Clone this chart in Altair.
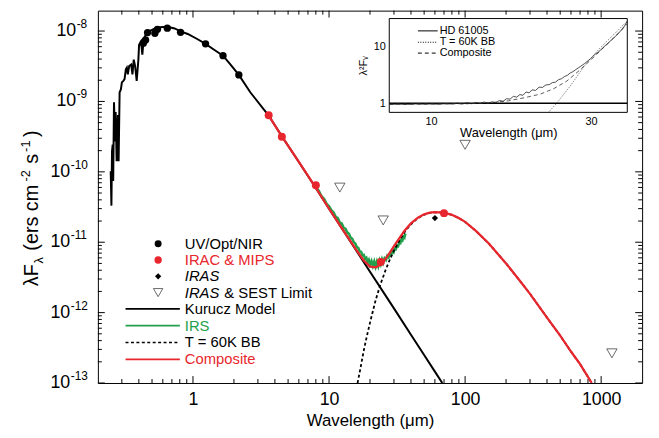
import altair as alt
import pandas as pd

FONT = "Liberation Sans"
RED = "#e8262d"
GREEN = "#22a04b"

# ---------------- main panel data ----------------
# Kurucz photospheric model (UV spectrum + smooth continuum + Rayleigh-Jeans tail)
kur_lam = [0.2485, 0.2515, 0.2540, 0.2570, 0.2592, 0.2627, 0.2679, 0.2702, 0.2747, 0.2808,
           0.2841, 0.2889, 0.2952, 0.3002, 0.3088, 0.3141, 0.3210, 0.3264, 0.3319, 0.3397,
           0.3513, 0.3590, 0.3669, 0.3756, 0.3858, 0.3969, 0.4016, 0.4152, 0.4244, 0.4337,
           0.4484, 0.4637, 0.4957, 0.5247, 0.5705, 0.6476, 0.7331, 0.8103, 0.9154, 1.082,
           1.237, 1.430, 1.663, 1.888, 2.173, 2.637, 3.6, 4.5, 6.0, 8.0,
           10.0, 12.0, 15.0, 20.0, 25.0, 30.0, 40.0, 50.0, 60.0, 68.0]
kur_flux = [1.02e-10, 3.31e-11, 1.95e-10, 2.44e-10, 7.4e-11, 9.75e-10, 2.69e-10, 7.06e-10, 1.41e-10, 6.41e-10,
            1.41e-10, 1.35e-9, 1.48e-9, 1.86e-9, 1.98e-9, 2.07e-9, 2.85e-9, 3.01e-9, 2.43e-9, 3.18e-9,
            3.34e-9, 2.43e-9, 3.93e-9, 3.18e-9, 1.96e-9, 3.93e-9, 6.37e-9, 7.11e-9, 4.61e-9, 7.48e-9,
            8.79e-9, 9.81e-9, 1.03e-8, 1.09e-8, 1.13e-8, 1.15e-8, 1.09e-8, 9.9e-9, 9.08e-9, 7.65e-9,
            6.58e-9, 5.42e-9, 4.47e-9, 3.34e-9, 2.38e-9, 1.35e-9, 6.3e-10, 3.2e-10, 1.38e-10, 5.9e-11,
            3.0e-11, 1.75e-11, 9.0e-12, 3.8e-12, 1.97e-12, 1.15e-12, 4.85e-13, 2.5e-13, 1.45e-13, 1.0e-13]

# UV / optical / near-IR photometry
opt_lam = [0.4314, 0.4484, 0.4637, 0.5247, 0.5480, 0.6476, 0.8103, 1.237, 1.663, 2.173]
opt_flux = [6.73e-9, 7.48e-9, 9.5e-9, 9.3e-9, 1.057e-8, 1.10e-8, 9.6e-9, 6.58e-9, 4.47e-9, 2.38e-9]

# IRAC & MIPS photometry
ir_lam = [3.6, 4.5, 8.0, 24.0, 70.0]
ir_flux = [6.35e-10, 3.16e-10, 6.46e-11, 5.24e-12, 2.59e-11]

# IRAS detection
iras_lam = [60.0]
iras_flux = [2.20e-11]

# IRAS & SEST upper limits
lim_lam = [12.0, 25.0, 100.0, 1200.0]
lim_flux = [5.97e-11, 2.04e-11, 2.42e-10, 2.64e-13]

# IRS spectrum
irs_lam = [8.0, 8.4, 8.8, 9.2, 9.6, 10.0, 10.4, 10.8, 11.2, 11.6, 12.0, 12.4, 12.8, 13.2, 13.6,
           14.0, 14.4, 14.8, 15.2, 15.6, 16.0, 16.4, 16.8, 17.2, 17.6, 18.0, 18.4, 18.8, 19.2, 19.6,
           20.0, 20.5, 21.0, 21.5, 22.0, 22.5, 23.0, 23.5, 24.0, 24.5, 25.0, 25.6, 26.2, 26.8, 27.4,
           28.0, 28.6, 29.2, 29.8, 30.4, 31.0, 31.6, 32.2, 32.8, 33.4, 34.0, 34.6, 35.2, 35.8, 36.4]
irs_flux = [6.0e-11, 5.4e-11, 4.5e-11, 4.1e-11, 3.5e-11, 3.25e-11, 2.85e-11, 2.65e-11, 2.3e-11, 2.2e-11,
            1.9e-11, 1.85e-11, 1.6e-11, 1.56e-11, 1.38e-11, 1.32e-11, 1.17e-11, 1.12e-11, 1.0e-11, 9.6e-12,
            8.5e-12, 8.3e-12, 7.4e-12, 7.3e-12, 6.5e-12, 6.6e-12, 5.8e-12, 6.0e-12, 5.2e-12, 5.6e-12,
            4.8e-12, 5.4e-12, 4.6e-12, 5.3e-12, 4.5e-12, 5.3e-12, 4.6e-12, 5.5e-12, 4.9e-12, 5.7e-12,
            5.1e-12, 5.9e-12, 5.6e-12, 6.4e-12, 6.1e-12, 6.9e-12, 6.6e-12, 7.5e-12, 7.2e-12, 8.1e-12,
            8.0e-12, 9.0e-12, 8.8e-12, 9.9e-12, 9.7e-12, 1.09e-11, 1.06e-11, 1.19e-11, 1.16e-11, 1.33e-11]

# T = 60 K blackbody
bb_lam = [16.2, 17.0, 18.0, 19.0, 20.0, 22.0, 24.0, 26.0, 28.0, 30.0, 33.0, 36.0, 40.0, 45.0, 50.0,
          55.0, 60.0, 70.0, 80.0, 90.0, 100.0, 120.0, 150.0, 200.0, 250.0, 300.0, 400.0, 500.0, 600.0, 700.0, 853.0]
bb_flux = [1.0e-13, 1.6e-13, 2.9e-13, 4.7e-13, 7.2e-13, 1.5e-12, 2.6e-12, 4.0e-12, 5.7e-12, 7.6e-12, 1.06e-11,
           1.4e-11, 1.8e-11, 2.2e-11, 2.46e-11, 2.61e-11, 2.67e-11, 2.62e-11, 2.45e-11, 2.2e-11, 1.95e-11,
           1.45e-11, 9.5e-12, 5.0e-12, 2.9e-12, 1.85e-12, 8.5e-13, 4.7e-13, 2.8e-13, 1.85e-13, 1.0e-13]

# Composite (photosphere + blackbody)
comp_lam = [3.6, 4.5, 6.0, 8.0, 10.0, 12.0, 14.0, 16.0, 18.0, 20.0, 22.0, 24.0, 26.0, 28.0, 30.0,
            33.0, 36.0, 40.0, 45.0, 50.0, 55.0, 60.0, 70.0, 80.0, 90.0, 100.0, 120.0, 150.0, 200.0,
            250.0, 300.0, 400.0, 500.0, 600.0, 700.0, 853.0]
comp_flux = [6.3e-10, 3.2e-10, 1.38e-10, 5.9e-11, 3.0e-11, 1.75e-11, 1.12e-11, 7.6e-12, 5.5e-12, 4.5e-12,
             4.4e-12, 4.8e-12, 5.8e-12, 7.1e-12, 8.8e-12, 1.15e-11, 1.47e-11, 1.85e-11, 2.23e-11, 2.49e-11,
             2.63e-11, 2.68e-11, 2.63e-11, 2.45e-11, 2.2e-11, 1.95e-11, 1.45e-11, 9.5e-12, 5.0e-12,
             2.9e-12, 1.85e-12, 8.5e-13, 4.7e-13, 2.8e-13, 1.85e-13, 1.0e-13]

# axis ticks and tick labels
x_major = [1, 10, 100, 1000]
x_minor = [m * 10.0 ** e for e in range(-1, 4) for m in range(2, 10) if 0.2 < m * 10.0 ** e < 2000]
y_major = [1e-13, 1e-12, 1e-11, 1e-10, 1e-9, 1e-8]
y_minor = [m * 10.0 ** e for e in range(-13, -8) for m in range(2, 10)]
ylab_short = [1e-9, 1e-8]
ylab_short_exp = ["-9", "-8"]
ylab_long = [1e-13, 1e-12, 1e-11, 1e-10]
ylab_long_exp = ["-13", "-12", "-11", "-10"]

# ---------------- inset data (normalised lambda^2 F_nu) ----------------
ins_lam = [7.5, 8.0, 8.5, 9.0, 9.5, 10.0, 10.5, 11.0, 11.5, 12.0, 12.4, 12.8, 13.2, 13.6, 14.0,
           14.4, 14.8, 15.2, 15.6, 16.0, 16.4, 16.8, 17.2, 17.6, 18.0, 18.4, 18.8, 19.2, 19.6, 20.0,
           20.5, 21.0, 21.5, 22.0, 22.5, 23.0, 23.5, 24.0, 24.5, 25.0, 25.5, 26.0, 26.5, 27.0, 27.5,
           28.0, 28.7, 29.4, 30.1, 30.8, 31.5, 32.2, 33.0, 33.8, 34.6, 35.4, 36.2, 37.0, 37.8, 38.5]
ins_hd = [0.95, 0.96, 0.95, 0.97, 0.96, 0.97, 0.96, 0.98, 0.97, 1.0, 0.97, 1.02, 0.98, 1.03, 0.99,
          1.05, 1.0, 1.06, 1.02, 1.12, 1.08, 1.2, 1.18, 1.32, 1.28, 1.42, 1.38, 1.58, 1.52, 1.72,
          1.68, 1.92, 1.9, 2.1, 2.12, 2.3, 2.35, 2.6, 2.7, 2.95, 3.1, 3.4, 3.6, 3.9, 4.2,
          4.5, 5.0, 5.6, 6.3, 7.2, 7.9, 8.9, 10.2, 11.5, 13.2, 14.8, 17.0, 19.5, 23.0, 28.0]
insc_lam = [7.5, 10.0, 13.0, 15.0, 17.0, 19.0, 21.2, 23.2, 25.4, 27.8, 30.5, 33.0, 35.0, 37.0, 38.5]
insc_val = [0.96, 0.97, 0.98, 1.02, 1.1, 1.25, 1.45, 1.8, 2.45, 3.85, 6.4, 10.0, 14.0, 19.5, 25.0]
insb_lam = [22.4, 23.7, 26.0, 29.0, 32.0, 35.0, 38.5]
insb_val = [0.69, 1.0, 2.0, 5.0, 9.5, 16.0, 28.0]

# ---------------- layout ----------------
W, H = 551, 377

xscale = alt.Scale(type="log", domain=[0.2, 2000])
yscale = alt.Scale(type="log", domain=[1e-13, 1.95e-8])
xaxis = alt.Axis(values=x_major, format="d", ticks=False, domain=False, grid=False,
                 labelFontSize=18, labelPadding=8, labelFont=FONT, labelColor="black",
                 title="Wavelength (\u03bcm)", titleFontSize=17, titleFont=FONT,
                 titleFontWeight="normal", titlePadding=4, titleColor="black", orient="bottom")
yaxis = alt.Axis(values=y_major, labels=False, ticks=False, domain=False, grid=False,
                 title=None, orient="left")


def X(f):
    return alt.X(f, type="quantitative", scale=xscale, axis=xaxis)


def Y(f):
    return alt.Y(f, type="quantitative", scale=yscale, axis=yaxis)


def df(**cols):
    return pd.DataFrame(cols)


one = df(a=[0])

layers = []

# inward ticks on all four sides
xt = df(v=x_major)
xm = df(v=x_minor)
yt = df(v=y_major)
ym = df(v=y_minor)
tick = dict(color="black", strokeWidth=1)
layers += [
    alt.Chart(xt).mark_rule(**tick).encode(x=X("v"), y=alt.value(H), y2=alt.value(H - 7)),
    alt.Chart(xm).mark_rule(**tick).encode(x=X("v"), y=alt.value(H), y2=alt.value(H - 4)),
    alt.Chart(xt).mark_rule(**tick).encode(x=X("v"), y=alt.value(0), y2=alt.value(7)),
    alt.Chart(xm).mark_rule(**tick).encode(x=X("v"), y=alt.value(0), y2=alt.value(4)),
    alt.Chart(yt).mark_rule(**tick).encode(y=Y("v"), x=alt.value(0), x2=alt.value(7)),
    alt.Chart(ym).mark_rule(**tick).encode(y=Y("v"), x=alt.value(0), x2=alt.value(4)),
    alt.Chart(yt).mark_rule(**tick).encode(y=Y("v"), x=alt.value(W), x2=alt.value(W - 7)),
    alt.Chart(ym).mark_rule(**tick).encode(y=Y("v"), x=alt.value(W), x2=alt.value(W - 4)),
]

# y tick labels: "10" with a raised exponent
lab_short = df(v=ylab_short, e=ylab_short_exp)
lab_long = df(v=ylab_long, e=ylab_long_exp)
lab = dict(font=FONT, color="black", baseline="middle")
layers += [
    alt.Chart(lab_short).mark_text(text="10", align="right", fontSize=18, **lab)
    .encode(y=Y("v"), x=alt.value(-22)),
    alt.Chart(lab_short).mark_text(align="left", fontSize=12, dy=-7, **lab)
    .encode(y=Y("v"), x=alt.value(-21.5), text="e:N"),
    alt.Chart(lab_long).mark_text(text="10", align="right", fontSize=18, **lab)
    .encode(y=Y("v"), x=alt.value(-28)),
    alt.Chart(lab_long).mark_text(align="left", fontSize=12, dy=-7, **lab)
    .encode(y=Y("v"), x=alt.value(-27.5), text="e:N"),
]

# curves
layers += [
    alt.Chart(df(lam=kur_lam, f=kur_flux)).mark_line(color="black", strokeWidth=2, clip=True)
    .encode(x=X("lam"), y=Y("f")),
    alt.Chart(df(lam=irs_lam, f=irs_flux)).mark_line(color=GREEN, strokeWidth=2.6, clip=True)
    .encode(x=X("lam"), y=Y("f")),
    alt.Chart(df(lam=bb_lam, f=bb_flux)).mark_line(color="black", strokeWidth=1.8, strokeDash=[3, 2.5], clip=True)
    .encode(x=X("lam"), y=Y("f")),
    alt.Chart(df(lam=comp_lam, f=comp_flux)).mark_line(color=RED, strokeWidth=2.3, clip=True)
    .encode(x=X("lam"), y=Y("f")),
]

# photometry
layers += [
    alt.Chart(df(lam=opt_lam, f=opt_flux)).mark_point(shape="circle", filled=True, size=55, color="black", opacity=1)
    .encode(x=X("lam"), y=Y("f")),
    alt.Chart(df(lam=ir_lam, f=ir_flux)).mark_point(shape="circle", filled=True, size=65, color=RED, opacity=1)
    .encode(x=X("lam"), y=Y("f")),
    alt.Chart(df(lam=iras_lam, f=iras_flux)).mark_point(shape="diamond", filled=True, size=40, color="black", opacity=1)
    .encode(x=X("lam"), y=Y("f")),
    alt.Chart(df(lam=lim_lam, f=lim_flux)).mark_point(shape="triangle-down", filled=False, size=110,
                                                    color="#444444", strokeWidth=0.8, opacity=1)
    .encode(x=X("lam"), y=Y("f")),
]


# legend
def txt(s, x, y, color="black", size=15, style="normal", angle=0, align="left", baseline="middle"):
    return alt.Chart(one).mark_text(text=s, align=align, baseline=baseline, fontSize=size, font=FONT,
                                    color=color, fontStyle=style, angle=angle).encode(
        x=alt.value(x), y=alt.value(y))


rows = [236, 252.5, 269, 285.5, 302, 319, 336, 353]
SX, TX = 61, 88
layers += [
    alt.Chart(one).mark_point(shape="circle", filled=True, size=50, color="black", opacity=1)
    .encode(x=alt.value(SX), y=alt.value(rows[0])),
    alt.Chart(one).mark_point(shape="circle", filled=True, size=55, color=RED, opacity=1)
    .encode(x=alt.value(SX), y=alt.value(rows[1])),
    alt.Chart(one).mark_point(shape="diamond", filled=True, size=40, color="black", opacity=1)
    .encode(x=alt.value(SX), y=alt.value(rows[2])),
    alt.Chart(one).mark_point(shape="triangle-down", filled=False, size=90, color="#444444", strokeWidth=0.8, opacity=1)
    .encode(x=alt.value(SX), y=alt.value(rows[3])),
    alt.Chart(one).mark_rule(color="black", strokeWidth=1.8)
    .encode(x=alt.value(28), x2=alt.value(83), y=alt.value(rows[4])),
    alt.Chart(one).mark_rule(color=GREEN, strokeWidth=1.8)
    .encode(x=alt.value(28), x2=alt.value(83), y=alt.value(rows[5])),
    alt.Chart(one).mark_rule(color="black", strokeWidth=1.5, strokeDash=[3, 2.5])
    .encode(x=alt.value(28), x2=alt.value(83), y=alt.value(rows[6])),
    alt.Chart(one).mark_rule(color=RED, strokeWidth=1.8)
    .encode(x=alt.value(28), x2=alt.value(83), y=alt.value(rows[7])),
    txt("UV/Opt/NIR", TX, rows[0]),
    txt("IRAC & MIPS", TX, rows[1], color=RED),
    txt("IRAS", TX, rows[2], style="italic"),
    txt("IRAS", TX, rows[3], style="italic"),
    txt("& SEST Limit", TX + 40, rows[3]),
    txt("Kurucz Model", TX, rows[4]),
    txt("IRS", TX, rows[5], color=GREEN),
    txt("T = 60K BB", TX, rows[6]),
    txt("Composite", TX, rows[7], color=RED),
]

# y-axis title built from pieces (subscript lambda, superscript exponents)
TB = -61
layers += [
    txt("\u03bbF", TB, 279, size=20, angle=270, baseline="alphabetic"),
    txt("\u03bb", TB + 5, 256, size=13, angle=270, baseline="alphabetic"),
    txt("(ers cm", TB, 243, size=20, angle=270, baseline="alphabetic"),
    txt("-2", TB - 8, 173, size=13, angle=270, baseline="alphabetic"),
    txt("s", TB, 155, size=20, angle=270, baseline="alphabetic"),
    txt("-1", TB - 8, 143, size=13, angle=270, baseline="alphabetic"),
    txt(")", TB, 128, size=20, angle=270, baseline="alphabetic"),
]

main = alt.layer(*layers)

# ---------------- inset ----------------
IX0, IX1, IY0, IY1 = 295, 536, 103, 8
ixscale = alt.Scale(type="log", domain=[7.5, 38.5], range=[IX0, IX1])
iyscale = alt.Scale(type="log", domain=[0.69, 31], range=[IY0, IY1])
ixaxis = alt.Axis(values=[10, 30], format="d", ticks=False, domain=False, grid=False, orient="bottom",
                  offset=-(H - IY0), labelFontSize=11, labelPadding=3, labelFont=FONT, labelColor="black",
                  title="Wavelength (\u03bcm)", titleFontSize=13, titleFont=FONT, titleFontWeight="normal",
                  titlePadding=0, titleColor="black")
iyaxis = alt.Axis(values=[1, 10], format="d", ticks=False, domain=False, grid=False, orient="left",
                  offset=-IX0, labelFontSize=11, labelPadding=4, labelFont=FONT, labelColor="black",
                  title="\u03bb\u00b2F\u1d65", titleFontSize=11, titleFont=FONT, titleFontWeight="normal",
                  titlePadding=5, titleColor="black")


def IX(f):
    return alt.X(f, type="quantitative", scale=ixscale, axis=ixaxis)


def IY(f):
    return alt.Y(f, type="quantitative", scale=iyscale, axis=iyaxis)


box = df(x0=[7.5], x1=[38.5], y0=[0.69], y1=[31.0])
unity = df(x0=[7.5], x1=[38.5], y=[1.0])
ilayers = [
    alt.Chart(box).mark_rect(fill="white", stroke="black", strokeWidth=1)
    .encode(x=IX("x0"), x2=alt.X2("x1"), y=IY("y0"), y2=alt.Y2("y1")),
    alt.Chart(unity).mark_rule(color="black", strokeWidth=1.4)
    .encode(x=IX("x0"), x2=alt.X2("x1"), y=IY("y")),
    alt.Chart(df(lam=insb_lam, v=insb_val)).mark_line(color="#333333", strokeWidth=0.8, strokeDash=[1, 1.5])
    .encode(x=IX("lam"), y=IY("v")),
    alt.Chart(df(lam=insc_lam, v=insc_val)).mark_line(color="#333333", strokeWidth=0.8, strokeDash=[4, 3])
    .encode(x=IX("lam"), y=IY("v")),
    alt.Chart(df(lam=ins_lam, v=ins_hd)).mark_line(color="#222222", strokeWidth=0.8)
    .encode(x=IX("lam"), y=IY("v")),
    alt.Chart(one).mark_rule(color="black", strokeWidth=1)
    .encode(x=alt.value(324), x2=alt.value(344), y=alt.value(20.5)),
    alt.Chart(one).mark_rule(color="black", strokeWidth=1, strokeDash=[1, 1.5])
    .encode(x=alt.value(324), x2=alt.value(344), y=alt.value(32)),
    alt.Chart(one).mark_rule(color="black", strokeWidth=1, strokeDash=[4, 3])
    .encode(x=alt.value(324), x2=alt.value(344), y=alt.value(43)),
    txt("HD 61005", 346, 20.5, size=11),
    txt("T = 60K BB", 346, 32, size=11),
    txt("Composite", 346, 43, size=11),
]
inset = alt.layer(*ilayers)

chart = (
    alt.layer(main, inset)
    .resolve_scale(x="independent", y="independent")
    .properties(width=W, height=H, autosize=alt.AutoSizeParams(type="none"),
                padding={"left": 91, "top": 0, "right": 9, "bottom": 52}, background="white")
    .configure_view(stroke="black", strokeWidth=1)
)

chart.save("out.html", embed_options={"renderer": "svg", "actions": False})
